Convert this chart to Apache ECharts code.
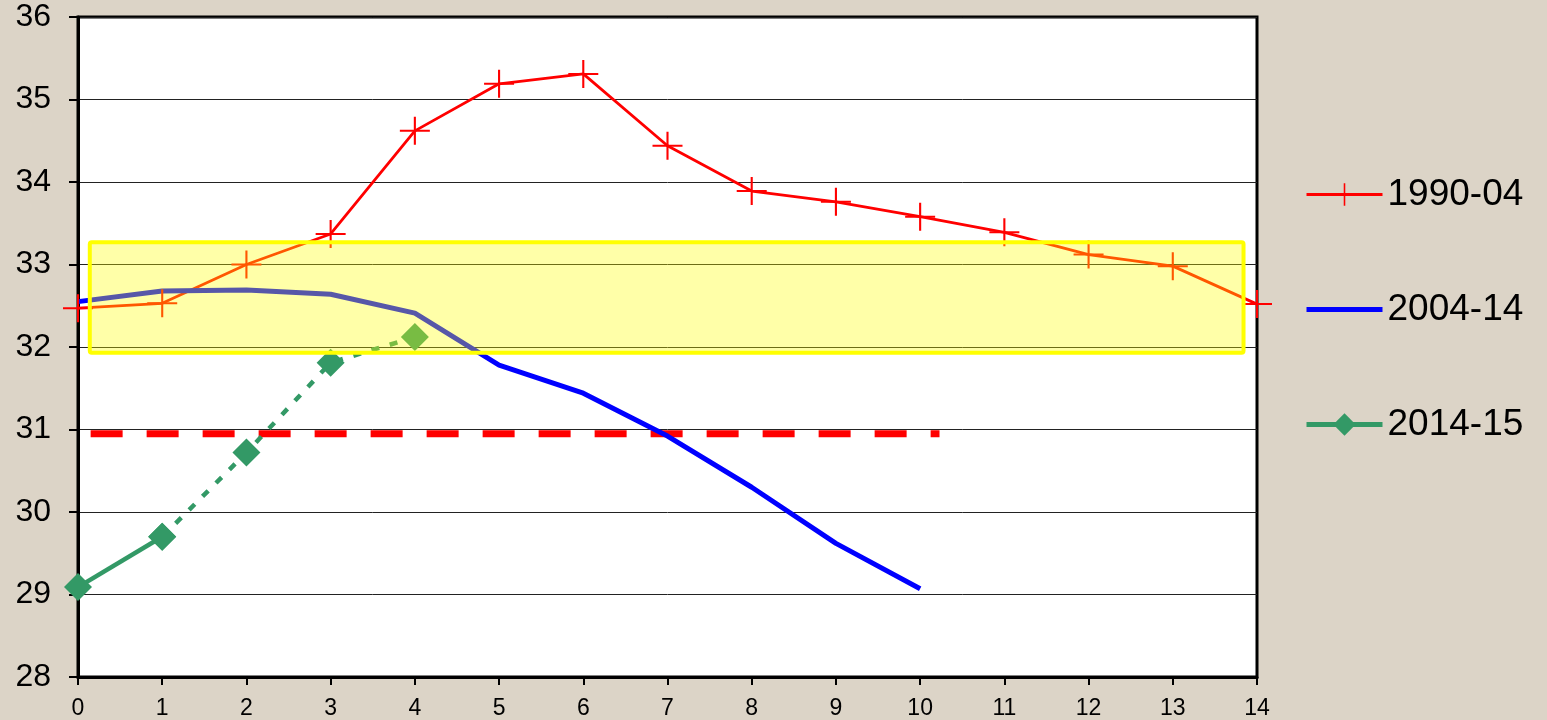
<!DOCTYPE html>
<html>
<head>
<meta charset="utf-8">
<title>Chart</title>
<script src="https://cdn.jsdelivr.net/npm/echarts@6/dist/echarts.min.js"></script>
<style>
  html, body { margin: 0; padding: 0; background: #dcd4c7; }
  #chart { width: 1547px; height: 720px; }
</style>
</head>
<body>
<div id="chart"></div>
<script>
// values
const xTicks = [0, 1, 2, 3, 4, 5, 6, 7, 8, 9, 10, 11, 12, 13, 14]
const yTicks = [28, 29, 30, 31, 32, 33, 34, 35, 36]
const seriesNames = ['1990-04', '2004-14', '2014-15']
const values1990 = [32.47, 32.53, 33.0, 33.37, 34.62, 35.19, 35.31, 34.44, 33.89, 33.76, 33.58, 33.39, 33.12, 32.98, 32.52]
const values2004 = [32.55, 32.68, 32.69, 32.64, 32.41, 31.78, 31.44, 30.92, 30.30, 29.62, 29.07]
const values2014 = [29.09, 29.70, 30.72, 31.81, 32.12]
// dashed red target line
const targetLevel = 30.95
const targetFrom = 0.15
const targetTo = 10.23
// yellow highlighted band
const bandX = [0.14, 13.84]
const bandY = [31.93, 33.27]

const FONT = '"Liberation Sans", Arial, sans-serif'
const plusPath = 'path://M-0.07,-1H0.07V-0.07H1V0.07H0.07V1H-0.07V0.07H-1V-0.07H-0.07Z'

const pairs = (arr, start = 0) => arr.map((v, i) => [xTicks[i], v]).slice(start)

const chart = echarts.init(document.getElementById('chart'), null, { renderer: 'canvas' })

chart.setOption({
  backgroundColor: '#dcd4c7',
  animation: false,
  textStyle: { fontFamily: FONT },
  grid: {
    left: 78,
    right: 290,
    top: 17,
    bottom: 43,
    show: true,
    backgroundColor: '#ffffff',
    borderColor: '#000000',
    borderWidth: 3
  },
  legend: {
    orient: 'vertical',
    left: 1299,
    top: 171,
    itemWidth: 76,
    itemHeight: 28,
    itemGap: 78,
    selectedMode: false,
    data: [
      { name: seriesNames[0], lineStyle: { width: 3 } },
      { name: seriesNames[1], lineStyle: { width: 5 }, itemStyle: { color: 'rgba(0,0,0,0)', borderWidth: 0 } },
      { name: seriesNames[2], lineStyle: { width: 5 } }
    ],
    textStyle: { fontSize: 37, color: '#000', fontFamily: FONT }
  },
  xAxis: {
    type: 'value',
    min: xTicks[0],
    max: xTicks[xTicks.length - 1],
    interval: 1,
    splitLine: { show: false },
    axisLine: { lineStyle: { color: '#000', width: 3 } },
    axisTick: { show: true, length: 8, lineStyle: { color: '#000', width: 2 } },
    axisLabel: { fontSize: 23, color: '#000', margin: 20, fontFamily: FONT }
  },
  yAxis: {
    type: 'value',
    min: yTicks[0],
    max: yTicks[yTicks.length - 1],
    interval: 1,
    splitLine: { show: true, lineStyle: { color: '#222', width: 1 } },
    axisLine: { show: true, lineStyle: { color: '#000', width: 3 } },
    axisTick: { show: true, length: 9, lineStyle: { color: '#000', width: 2 } },
    axisLabel: { fontSize: 32, color: '#000', margin: 27, fontFamily: FONT }
  },
  series: [
    {
      name: 'target',
      type: 'line',
      z: 3,
      symbol: 'none',
      silent: true,
      data: [[targetFrom, targetLevel], [targetTo, targetLevel]],
      lineStyle: { color: '#ff0000', width: 7, type: [32, 24], cap: 'butt' }
    },
    {
      name: seriesNames[0],
      type: 'line',
      z: 4,
      data: pairs(values1990),
      symbol: plusPath,
      symbolSize: [30, 28],
      showSymbol: true,
      itemStyle: { color: '#ff0000', borderWidth: 0 },
      lineStyle: { color: '#ff0000', width: 2.8 }
    },
    {
      name: seriesNames[1],
      type: 'line',
      z: 4,
      data: pairs(values2004),
      symbol: 'none',
      showSymbol: false,
      itemStyle: { color: '#0000ff' },
      lineStyle: { color: '#0000ff', width: 5 }
    },
    {
      name: seriesNames[2],
      type: 'line',
      z: 5,
      data: pairs(values2014).slice(0, 2),
      symbol: 'diamond',
      symbolSize: 28,
      itemStyle: { color: '#339966', borderWidth: 0 },
      lineStyle: { color: '#339966', width: 4.5 }
    },
    {
      name: '2014-15 dashed',
      type: 'line',
      z: 5,
      data: pairs(values2014, 1),
      symbol: 'diamond',
      symbolSize: 28,
      itemStyle: { color: '#339966', borderWidth: 0 },
      lineStyle: { color: '#339966', width: 4.5, type: [8, 11] }
    },
    {
      name: 'band',
      type: 'custom',
      z: 10,
      silent: true,
      clip: false,
      data: [[bandX[0], bandX[1], bandY[0], bandY[1]]],
      renderItem: (params, api) => {
        const p0 = api.coord([api.value(0), api.value(3)])
        const p1 = api.coord([api.value(1), api.value(2)])
        return {
          type: 'rect',
          shape: { x: p0[0], y: p0[1], width: p1[0] - p0[0], height: p1[1] - p0[1], r: 2 },
          style: { fill: 'rgba(255,255,0,0.34)', stroke: '#ffff00', lineWidth: 4 }
        }
      }
    }
  ]
})
</script>
</body>
</html>
